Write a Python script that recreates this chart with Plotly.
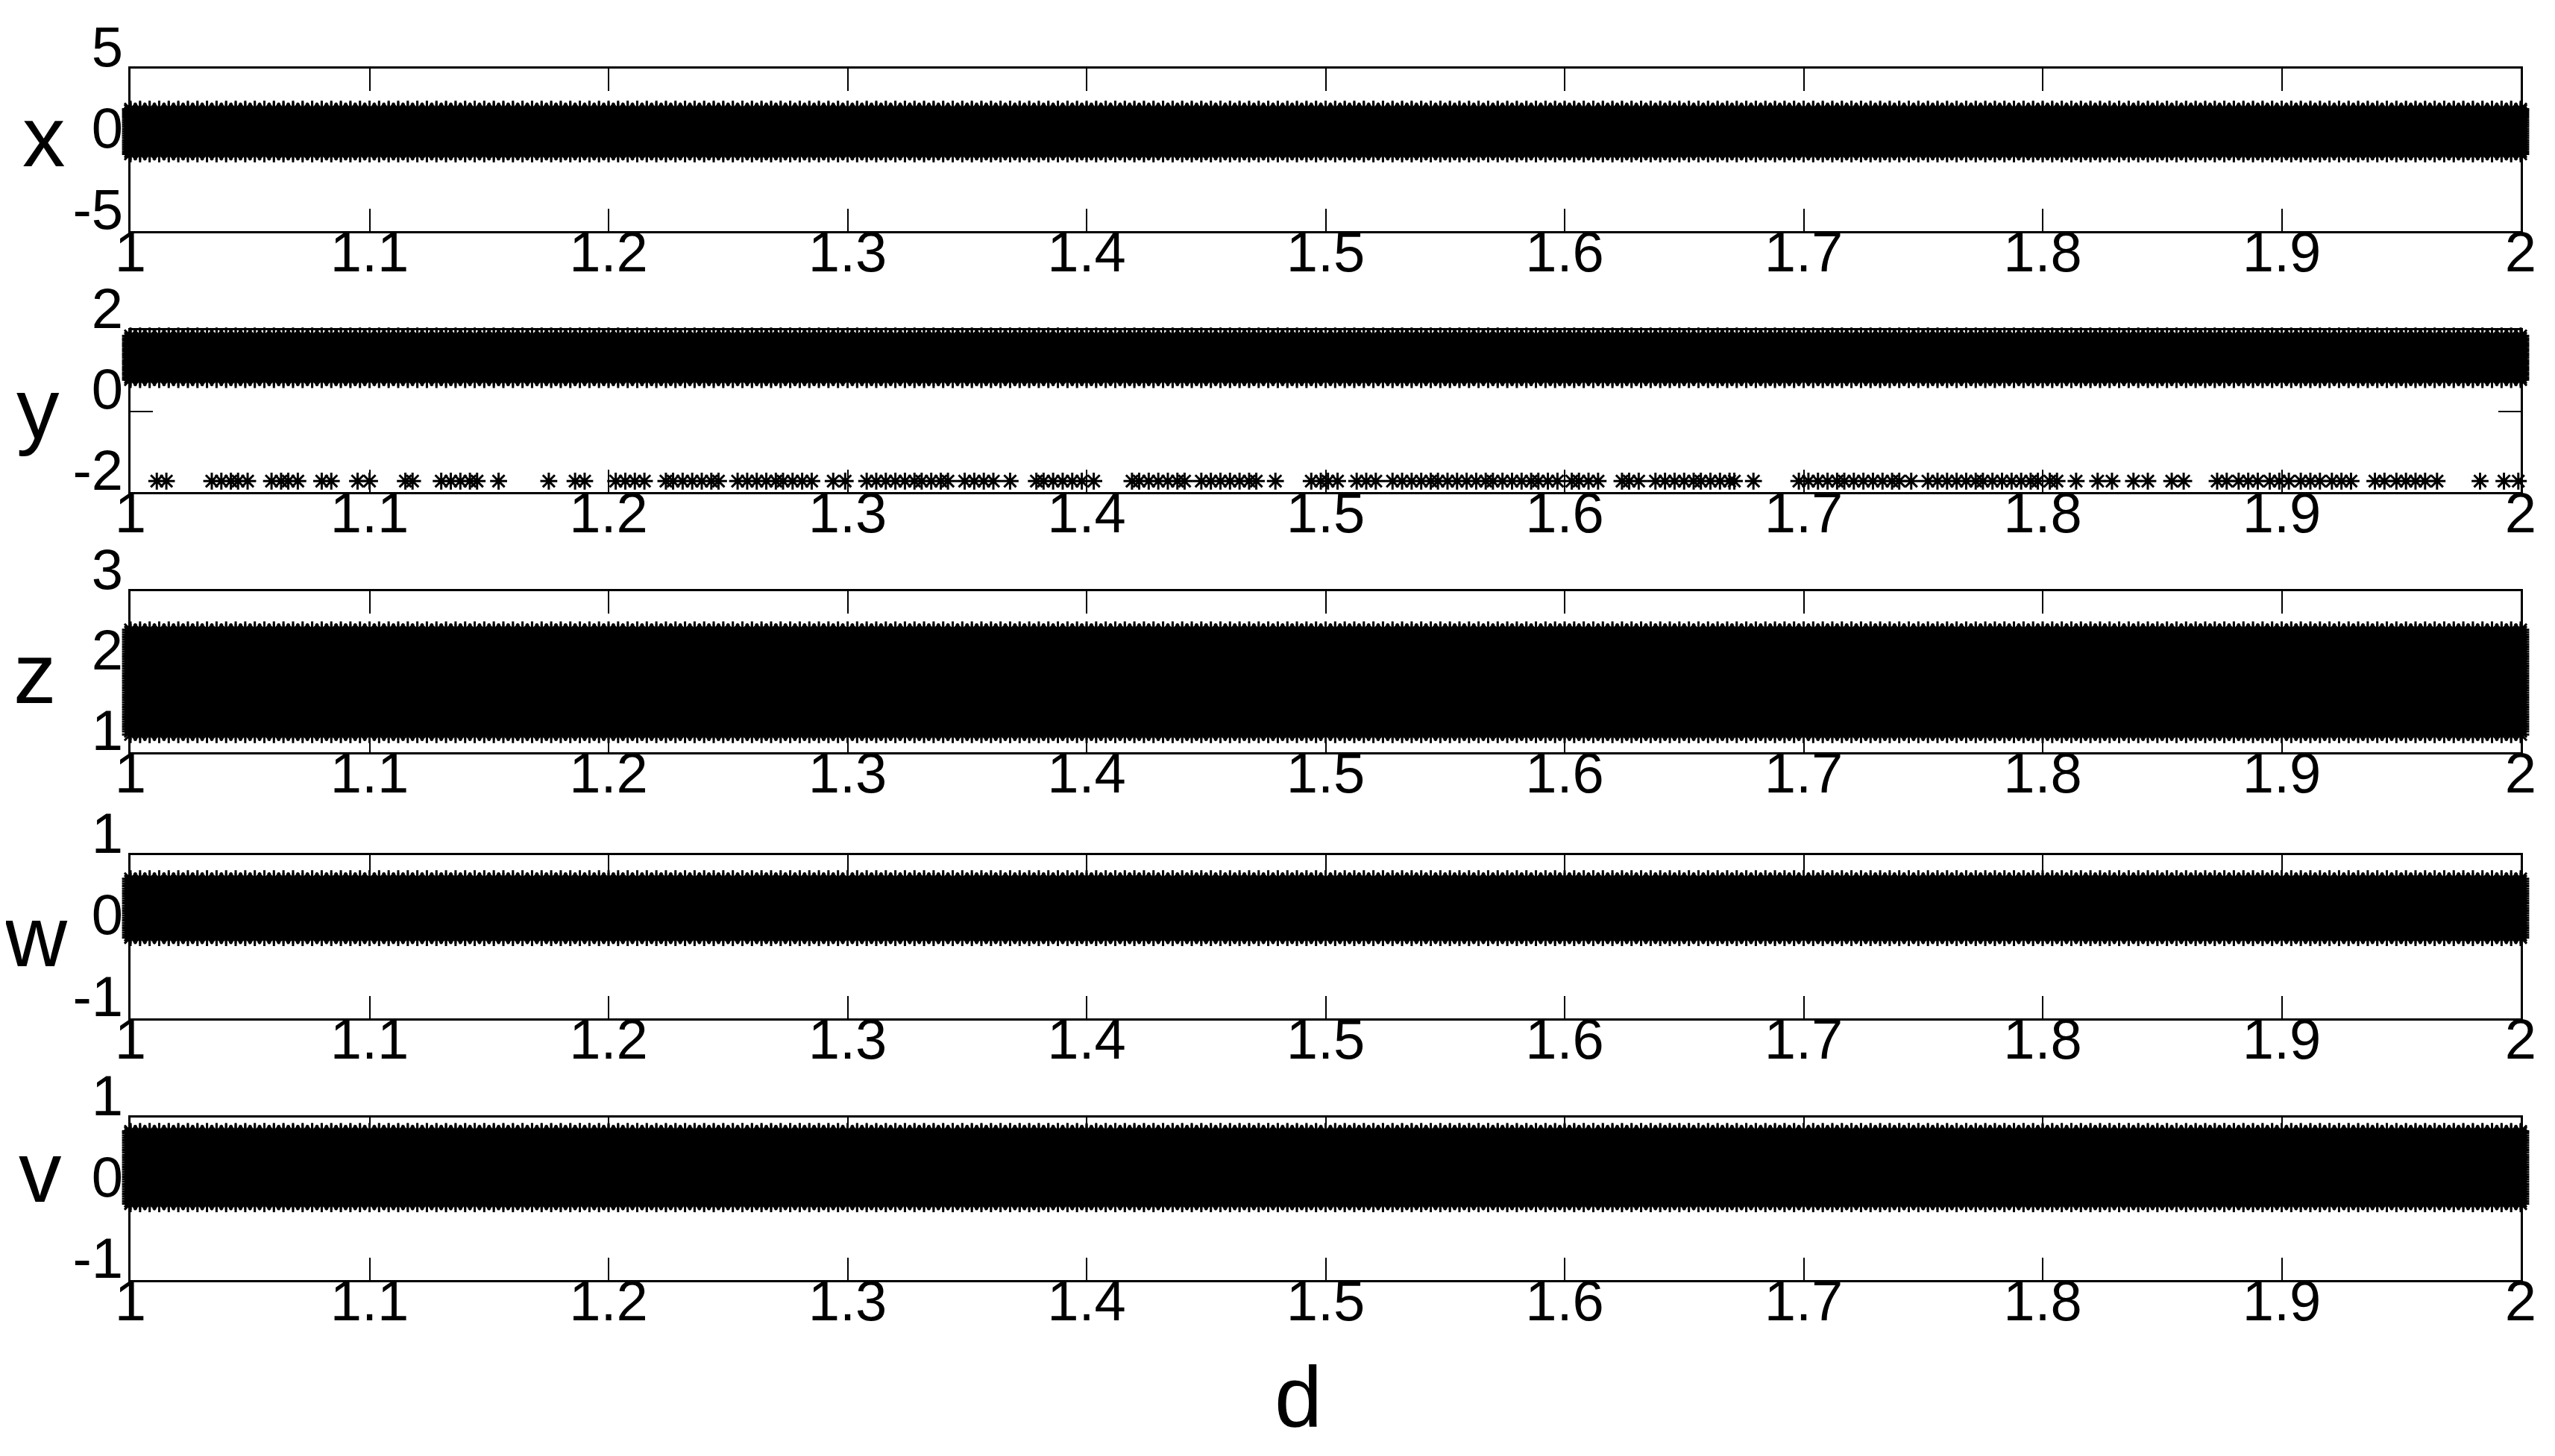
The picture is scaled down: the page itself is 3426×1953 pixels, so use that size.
import plotly.graph_objects as go

# bifurcation parameter d (sweep values)
d = [
    1.000, 1.004, 1.008, 1.012, 1.016, 1.020, 1.024, 1.028, 1.032, 1.036,
    1.040, 1.044, 1.048, 1.052, 1.056, 1.060, 1.064, 1.068, 1.072, 1.076,
    1.080, 1.084, 1.088, 1.092, 1.096, 1.100, 1.104, 1.108, 1.112, 1.116,
    1.120, 1.124, 1.128, 1.132, 1.136, 1.140, 1.144, 1.148, 1.152, 1.156,
    1.160, 1.164, 1.168, 1.172, 1.176, 1.180, 1.184, 1.188, 1.192, 1.196,
    1.200, 1.204, 1.208, 1.212, 1.216, 1.220, 1.224, 1.228, 1.232, 1.236,
    1.240, 1.244, 1.248, 1.252, 1.256, 1.260, 1.264, 1.268, 1.272, 1.276,
    1.280, 1.284, 1.288, 1.292, 1.296, 1.300, 1.304, 1.308, 1.312, 1.316,
    1.320, 1.324, 1.328, 1.332, 1.336, 1.340, 1.344, 1.348, 1.352, 1.356,
    1.360, 1.364, 1.368, 1.372, 1.376, 1.380, 1.384, 1.388, 1.392, 1.396,
    1.400, 1.404, 1.408, 1.412, 1.416, 1.420, 1.424, 1.428, 1.432, 1.436,
    1.440, 1.444, 1.448, 1.452, 1.456, 1.460, 1.464, 1.468, 1.472, 1.476,
    1.480, 1.484, 1.488, 1.492, 1.496, 1.500, 1.504, 1.508, 1.512, 1.516,
    1.520, 1.524, 1.528, 1.532, 1.536, 1.540, 1.544, 1.548, 1.552, 1.556,
    1.560, 1.564, 1.568, 1.572, 1.576, 1.580, 1.584, 1.588, 1.592, 1.596,
    1.600, 1.604, 1.608, 1.612, 1.616, 1.620, 1.624, 1.628, 1.632, 1.636,
    1.640, 1.644, 1.648, 1.652, 1.656, 1.660, 1.664, 1.668, 1.672, 1.676,
    1.680, 1.684, 1.688, 1.692, 1.696, 1.700, 1.704, 1.708, 1.712, 1.716,
    1.720, 1.724, 1.728, 1.732, 1.736, 1.740, 1.744, 1.748, 1.752, 1.756,
    1.760, 1.764, 1.768, 1.772, 1.776, 1.780, 1.784, 1.788, 1.792, 1.796,
    1.800, 1.804, 1.808, 1.812, 1.816, 1.820, 1.824, 1.828, 1.832, 1.836,
    1.840, 1.844, 1.848, 1.852, 1.856, 1.860, 1.864, 1.868, 1.872, 1.876,
    1.880, 1.884, 1.888, 1.892, 1.896, 1.900, 1.904, 1.908, 1.912, 1.916,
    1.920, 1.924, 1.928, 1.932, 1.936, 1.940, 1.944, 1.948, 1.952, 1.956,
    1.960, 1.964, 1.968, 1.972, 1.976, 1.980, 1.984, 1.988, 1.992, 1.996,
    2.000,
]

# values visited at every d
x_band = [-0.25, -0.11, 0.03, 0.17, 0.31, 0.45, 0.59, 0.73, 0.87, 1.01, 1.15,
          1.29, 1.43, 1.57, 1.71, 1.85, 1.99, 2.13, 2.27, 2.41, 2.50]
y_band = [0.78, 0.83, 0.89, 0.94, 1.00, 1.05, 1.10, 1.16, 1.21, 1.26, 1.32,
          1.37, 1.42, 1.48, 1.53, 1.59, 1.64, 1.69, 1.75, 1.80, 1.86]
z_band = [1.22, 1.26, 1.29, 1.32, 1.35, 1.38, 1.41, 1.44, 1.47, 1.50, 1.53,
          1.56, 1.59, 1.62, 1.65, 1.68, 1.71, 1.74, 1.77, 1.80, 1.83, 1.86,
          1.89, 1.92, 1.95, 1.98, 2.01, 2.04, 2.07, 2.10, 2.13, 2.16, 2.19,
          2.22, 2.25, 2.28, 2.31, 2.34, 2.37, 2.40, 2.43, 2.46, 2.49, 2.52]
w_band = [-0.01, 0.02, 0.05, 0.08, 0.11, 0.14, 0.17, 0.20, 0.23, 0.26, 0.29,
          0.32, 0.35, 0.38, 0.41, 0.44, 0.47, 0.50, 0.53, 0.56, 0.59, 0.62,
          0.65, 0.68, 0.71]
v_band = [-0.06, -0.03, 0.00, 0.03, 0.06, 0.09, 0.12, 0.15, 0.18, 0.21, 0.24,
          0.27, 0.30, 0.33, 0.36, 0.39, 0.42, 0.45, 0.48, 0.51, 0.54, 0.57,
          0.60, 0.63, 0.66, 0.69, 0.72, 0.75, 0.78, 0.81, 0.83]

# isolated y points near -1.73
y_low_level = -1.73
y_low_d = [
    1.011, 1.015, 1.034, 1.038, 1.042, 1.045, 1.049, 1.059, 1.063, 1.066,
    1.070, 1.080, 1.084, 1.095, 1.100, 1.115, 1.118, 1.130, 1.134, 1.138,
    1.142, 1.145, 1.154, 1.175, 1.186, 1.190,
    1.203, 1.207, 1.211, 1.215, 1.224, 1.227, 1.231, 1.235, 1.239, 1.243,
    1.246, 1.254, 1.258, 1.262, 1.266, 1.270, 1.273, 1.277, 1.281, 1.285,
    1.294, 1.299, 1.308, 1.312, 1.316, 1.320, 1.324, 1.328, 1.331, 1.335,
    1.339, 1.342, 1.349, 1.353, 1.357, 1.361, 1.368, 1.379, 1.382, 1.386,
    1.390, 1.394, 1.398,
    1.403, 1.419, 1.422, 1.426, 1.430, 1.434, 1.438, 1.441, 1.448, 1.452,
    1.456, 1.460, 1.464, 1.468, 1.471, 1.479, 1.494, 1.498, 1.501, 1.505,
    1.513, 1.517, 1.521, 1.528, 1.532, 1.536, 1.540, 1.544, 1.547, 1.551,
    1.555, 1.559, 1.563, 1.567, 1.570, 1.574, 1.578, 1.582, 1.586, 1.589,
    1.593, 1.597,
    1.603, 1.606, 1.610, 1.614, 1.624, 1.627, 1.631, 1.638, 1.642, 1.646,
    1.650, 1.654, 1.657, 1.661, 1.665, 1.669, 1.671, 1.679, 1.698, 1.702,
    1.706, 1.710, 1.714, 1.717, 1.721, 1.725, 1.729, 1.733, 1.737, 1.740,
    1.745, 1.752, 1.756, 1.760, 1.764, 1.768, 1.772, 1.775, 1.779, 1.783,
    1.787, 1.791, 1.795, 1.798,
    1.803, 1.806, 1.814, 1.823, 1.829, 1.838, 1.844, 1.854, 1.859, 1.873,
    1.877, 1.882, 1.886, 1.890, 1.895, 1.899, 1.903, 1.908, 1.912, 1.916,
    1.921, 1.925, 1.929, 1.939, 1.943, 1.948, 1.952, 1.956, 1.960, 1.965,
    1.983, 1.993, 1.999,
]

d_ticks = [1.0, 1.1, 1.2, 1.3, 1.4, 1.5, 1.6, 1.7, 1.8, 1.9, 2.0]
d_tick_text = ["1", "1.1", "1.2", "1.3", "1.4", "1.5", "1.6", "1.7", "1.8", "1.9", "2"]

panels = [
    ("x", x_band, [-5, 5], [-5, 0, 5], ["-5", "0", "5"]),
    ("y", y_band, [-2, 2], [-2, 0, 2], ["-2", "0", "2"]),
    ("z", z_band, [1, 3], [1, 2, 3], ["1", "2", "3"]),
    ("w", w_band, [-1, 1], [-1, 0, 1], ["-1", "0", "1"]),
    ("v", v_band, [-1, 1], [-1, 0, 1], ["-1", "0", "1"]),
]

W, H = 3426, 1953
OFF = 8  # page body margin
rows_px = [(92, 310), (443, 660), (793, 1009), (1147, 1366), (1499, 1717)]
label_y_px = [183, 548, 903, 1256, 1572]
label_x_px = [59, 51, 47, 48, 54]
FONT = "Liberation Sans, Arial, sans-serif"

marker = dict(symbol="asterisk-open", size=19, color="black",
              line=dict(color="black", width=3))

fig = go.Figure()
layout = dict(
    width=W, height=H, margin=dict(l=0, r=0, t=0, b=0, autoexpand=False),
    paper_bgcolor="white", plot_bgcolor="white", showlegend=False,
    font=dict(family=FONT, color="black"),
)
annotations = []

for i, (name, band, yr, yt, ytext) in enumerate(panels):
    n = "" if i == 0 else str(i + 1)
    xs = [dv for dv in d for _ in band]
    ys = [b for _ in d for b in band]
    if name == "y":
        xs += y_low_d
        ys += [y_low_level] * len(y_low_d)
    fig.add_trace(go.Scatter(x=xs, y=ys, mode="markers", marker=marker,
                             cliponaxis=False, hoverinfo="skip",
                             xaxis="x" + n, yaxis="y" + n))
    top, bot = rows_px[i]
    layout["xaxis" + n] = dict(
        domain=[(175 - OFF) / W, (3380 - OFF) / W], range=[1, 2], anchor="y" + n,
        tickvals=d_ticks, ticktext=d_tick_text, automargin=False,
        ticks="inside", ticklen=30, tickwidth=2, tickcolor="black",
        showline=True, linecolor="black", linewidth=2.5, mirror="allticks",
        showgrid=False, zeroline=False,
        tickfont=dict(size=76, family=FONT, color="black"),
        ticklabelstandoff=-40,
    )
    layout["yaxis" + n] = dict(
        domain=[1 - (bot - OFF) / H, 1 - (top - OFF) / H], range=yr, anchor="x" + n,
        tickvals=yt, ticktext=ytext, automargin=False,
        ticks="inside", ticklen=30, tickwidth=2, tickcolor="black",
        showline=True, linecolor="black", linewidth=2.5, mirror="allticks",
        showgrid=False, zeroline=False,
        tickfont=dict(size=76, family=FONT, color="black"),
        ticklabelshift=-30, ticklabelstandoff=-8,
    )
    annotations.append(dict(
        text=name, xref="paper", yref="paper", showarrow=False,
        x=(label_x_px[i] - OFF) / W, y=1 - (label_y_px[i] - OFF) / H,
        xanchor="center", yanchor="middle",
        font=dict(size=115, family=FONT, color="black"),
    ))

annotations.append(dict(
    text="d", xref="paper", yref="paper", showarrow=False,
    x=(1741 - OFF) / W, y=1 - (1873 - OFF) / H, xanchor="center", yanchor="middle",
    font=dict(size=115, family=FONT, color="black"),
))
layout["annotations"] = annotations
fig.update_layout(**layout)

fig.write_html("out.html")
